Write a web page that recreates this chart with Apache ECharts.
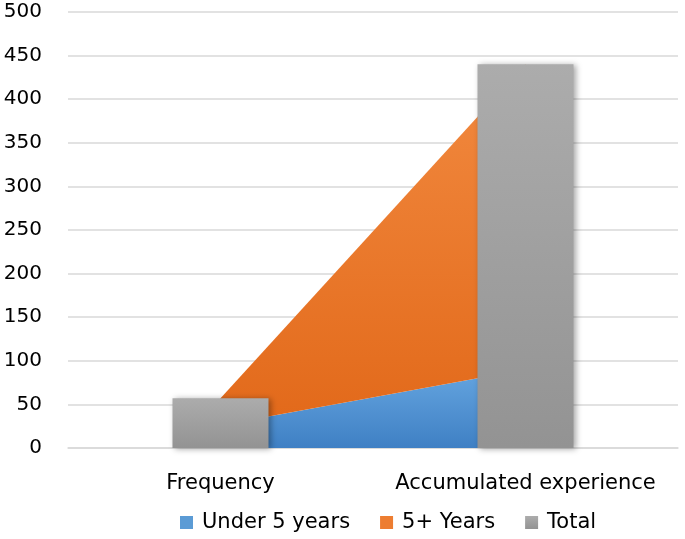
<!DOCTYPE html>
<html>
<head>
<meta charset="utf-8">
<script src="https://cdn.jsdelivr.net/npm/echarts@6/dist/echarts.min.js"></script>
<style>html,body{margin:0;padding:0;background:#fff}#c{width:685px;height:539px}</style>
</head>
<body>
<div id="c"></div>
<script>
const categories = ['Frequency', 'Accumulated experience'];
const under5 = [26, 90];
const fivePlus = [31, 350];
const total = [57, 440];
const yTicks = { min: 0, max: 500, interval: 50 };

const chart = echarts.init(document.getElementById('c'));
const font = '"DejaVu Sans", sans-serif';
chart.setOption({
  animation: false,
  textStyle: { fontFamily: font },
  grid: { left: 68, right: 7, top: 12, bottom: 91, containLabel: false },
  legend: {
    bottom: 1, left: 175, icon: 'rect', itemWidth: 13, itemHeight: 13, itemGap: 30,
    textStyle: { fontSize: 21, color: '#000', fontFamily: font, padding: [0, 0, 0, 4] },
    data: ['Under 5 years', '5+ Years', 'Total']
  },
  xAxis: {
    type: 'category', data: categories, boundaryGap: true,
    axisLine: { lineStyle: { color: '#d9d9d9', width: 1.5 } },
    axisTick: { show: false },
    axisLabel: { fontSize: 21, color: '#000', margin: 25, interval: 0, hideOverlap: false, fontFamily: font }
  },
  yAxis: {
    type: 'value', min: yTicks.min, max: yTicks.max, interval: yTicks.interval,
    axisLine: { show: false }, axisTick: { show: false },
    splitLine: { lineStyle: { color: '#d9d9d9', width: 1.5 } },
    axisLabel: { fontSize: 20, color: '#000', margin: 26, fontFamily: font }
  },
  series: [
    {
      name: 'Under 5 years', type: 'line', stack: 'a', data: under5, symbol: 'none', z: 2,
      lineStyle: { width: 0 },
      itemStyle: { color: '#5b9bd5' },
      areaStyle: { opacity: 1, color: new echarts.graphic.LinearGradient(0, 0, 0, 1, [
        { offset: 0, color: '#65a5e0' }, { offset: 1, color: '#3f80c4' }]) }
    },
    {
      name: '5+ Years', type: 'line', stack: 'a', data: fivePlus, symbol: 'none', z: 2,
      lineStyle: { width: 0 },
      itemStyle: { color: '#ed7d31' },
      areaStyle: { opacity: 1, color: new echarts.graphic.LinearGradient(0, 0, 0, 1, [
        { offset: 0, color: '#f28a40' }, { offset: 1, color: '#e2691a' }]) }
    },
    {
      name: 'Total', type: 'bar', data: total, barWidth: 96, z: 3,
      itemStyle: {
        color: new echarts.graphic.LinearGradient(0, 0, 0, 1, [
          { offset: 0, color: '#acacac' }, { offset: 1, color: '#939393' }]),
        shadowColor: 'rgba(0,0,0,0.35)', shadowBlur: 6, shadowOffsetX: 2, shadowOffsetY: 1
      }
    }
  ]
});
</script>
</body>
</html>
